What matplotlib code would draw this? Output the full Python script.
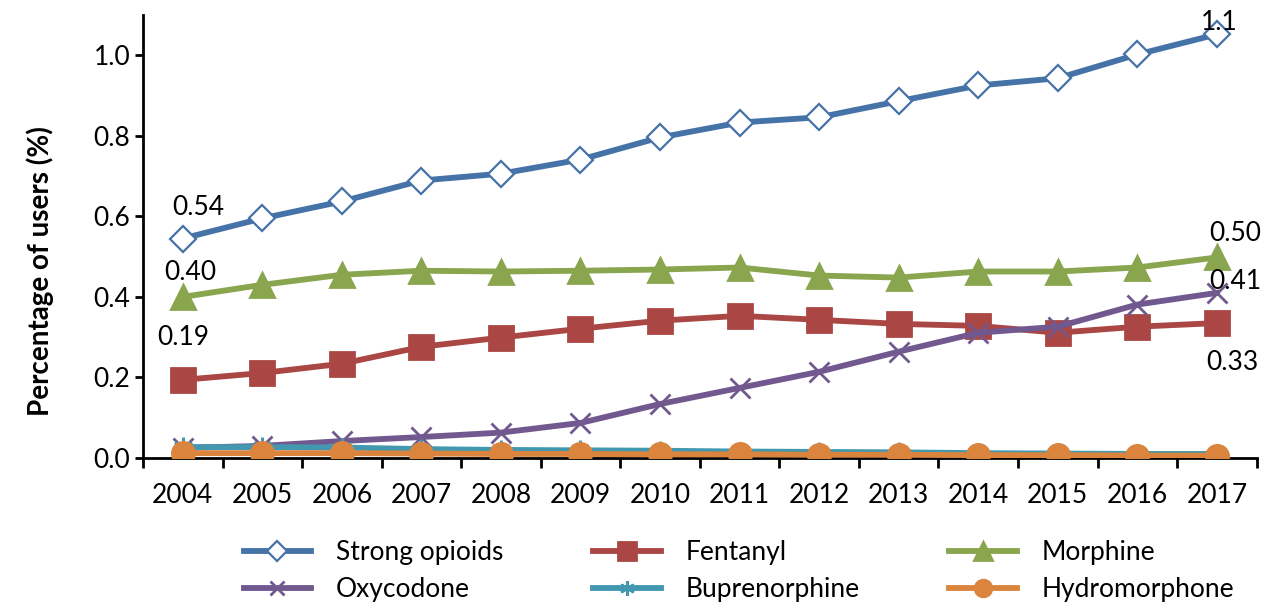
import numpy as np
import matplotlib
matplotlib.use("Agg")
import matplotlib.pyplot as plt

plt.rcParams['font.family'] = ['Lato', 'DejaVu Sans']

# データ
years = [2004, 2005, 2006, 2007, 2008, 2009, 2010, 2011, 2012, 2013, 2014, 2015, 2016, 2017]
strong = [0.545, 0.595, 0.637, 0.689, 0.706, 0.741, 0.796, 0.833, 0.846, 0.886, 0.925, 0.943, 1.002, 1.052]
fentanyl = [0.194, 0.211, 0.234, 0.276, 0.299, 0.321, 0.341, 0.353, 0.343, 0.333, 0.328, 0.311, 0.326, 0.335]
morphine = [0.400, 0.430, 0.455, 0.465, 0.463, 0.465, 0.468, 0.473, 0.453, 0.448, 0.463, 0.463, 0.473, 0.498]
oxycodone = [0.025, 0.030, 0.042, 0.052, 0.063, 0.087, 0.134, 0.174, 0.214, 0.264, 0.311, 0.326, 0.381, 0.410]
buprenorphine = [0.027, 0.027, 0.026, 0.022, 0.020, 0.019, 0.018, 0.016, 0.015, 0.014, 0.012, 0.011, 0.010, 0.010]
hydromorphone = [0.012, 0.012, 0.012, 0.011, 0.010, 0.010, 0.009, 0.009, 0.008, 0.008, 0.007, 0.007, 0.006, 0.006]

# 系列の定義: (ラベル, 値, 色, マーカー, 塗り, サイズ)
series = [
    ("Strong opioids", strong, "#4572a7", "D", "white", 13),
    ("Fentanyl", fentanyl, "#aa4643", "s", None, 17),
    ("Morphine", morphine, "#89a54e", "^", None, 17),
    ("Oxycodone", oxycodone, "#71588f", "x", None, 14),
    ("Buprenorphine", buprenorphine, "#4198af", (6, 2, 0), None, 14),
    ("Hydromorphone", hydromorphone, "#db843d", "o", None, 16),
]

fig = plt.figure(figsize=(12.81, 6.13), dpi=100)
ax = fig.add_axes([0.1116, 0.2529, 0.8694, 0.7226])

x = np.arange(len(years))
handles = []
for label, vals, col, mk, face, ms in series:
    mfc = face if face else col
    h, = ax.plot(x, vals, color=col, lw=4.2, marker=mk, ms=ms, mfc=mfc,
                 mec=col, mew=1.6 if mk == "D" else 2.0, label=label, zorder=3)
    handles.append(h)

ax.set_xlim(-0.5, len(years) - 0.5)
ax.set_ylim(0, 1.1)
yt = [0, 0.2, 0.4, 0.6, 0.8, 1.0]
ax.set_yticks(yt)
ax.set_yticklabels([f"{v:.1f}" for v in yt])
ax.set_xticks(x)
ax.set_xticklabels([str(y) for y in years])
ax.set_xticks(np.arange(-0.5, len(years)), minor=True)
ax.tick_params(axis='x', which='major', length=0, pad=18, labelsize=19)
ax.tick_params(axis='x', which='minor', length=7, width=2, direction='out')
ax.tick_params(axis='y', length=6, width=2, direction='out', labelsize=19, pad=3)

for s in ['top', 'right']:
    ax.spines[s].set_visible(False)
for s in ['left', 'bottom']:
    ax.spines[s].set_linewidth(2)

ax.set_ylabel("Percentage of users (%)", fontsize=20, fontweight='bold')
ax.yaxis.set_label_coords(-0.080, 0.423)

# 注記
fs = 19
ax.text(0.19, 0.622, "0.54", fontsize=fs, ha='center', va='center')
ax.text(0.10, 0.46, "0.40", fontsize=fs, ha='center', va='center')
ax.text(0.01, 0.299, "0.19", fontsize=fs, ha='center', va='center')
ax.text(13.03, 1.082, "1.1", fontsize=fs, ha='center', va='center')
ax.text(13.23, 0.557, "0.50", fontsize=fs, ha='center', va='center')
ax.text(13.23, 0.438, "0.41", fontsize=fs, ha='center', va='center')
ax.text(13.20, 0.238, "0.33", fontsize=fs, ha='center', va='center')

# 凡例 (行優先に並べ替え)
order = [0, 3, 1, 4, 2, 5]
fig.legend([handles[i] for i in order], [series[i][0] for i in order],
           loc='center', bbox_to_anchor=(0.577, 0.068), ncol=3, frameon=False,
           fontsize=19, handlelength=2.55, columnspacing=3.4, handletextpad=0.95,
           labelspacing=0.45, markerscale=0.75, borderpad=0)

fig.savefig("out.png", dpi=100)
